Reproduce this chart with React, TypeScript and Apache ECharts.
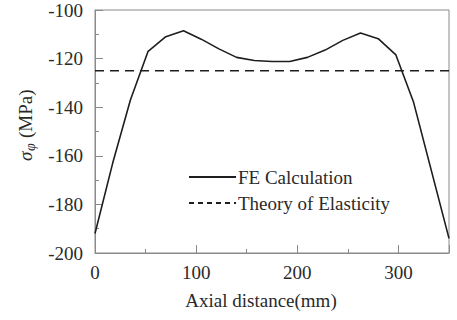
import React, { useEffect, useRef } from "react";
import * as echarts from "echarts";

const xPositions = [0, 17.5, 35, 52.5, 70, 87.5, 105, 122.5, 140, 157.5, 175, 192.5, 210, 227.5, 245, 262.5, 280, 297.5, 315, 332.5, 350];
const feValues = [-192, -163, -137, -117, -111, -108.5, -112, -116, -119.5, -120.8, -121.2, -121.2, -119.5, -116.5, -112.5, -109.5, -111.8, -118.5, -138, -166, -194];
const theoryX = [0, 350];
const theoryValue = -125;
const seriesNames = ["FE Calculation", "Theory of Elasticity"];
const xTicks = [0, 100, 200, 300];
const yTicks = [-200, -180, -160, -140, -120, -100];

const FONT = "Liberation Serif";
const AXIS_COLOR = "#8a8a8a";
const TEXT_COLOR = "#2a2a2a";

export default function App() {
  const ref = useRef<HTMLDivElement>(null);
  useEffect(() => {
    if (!ref.current) return;
    const chart = echarts.init(ref.current, null, { renderer: "svg" });
    const feData = xPositions.map((x, i) => [x, feValues[i]]);
    const thData = theoryX.map((x) => [x, theoryValue]);
    chart.setOption({
      animation: false,
      backgroundColor: "#fff",
      textStyle: { fontFamily: FONT },
      grid: {
        left: 95,
        right: 8,
        top: 10,
        bottom: 67,
        show: true,
        borderColor: AXIS_COLOR,
        borderWidth: 1,
        backgroundColor: "transparent",
      },
      legend: {
        orient: "vertical",
        left: 188,
        top: 167,
        padding: 0,
        itemWidth: 47,
        itemHeight: 14,
        itemGap: 6,
        textStyle: { fontFamily: FONT, fontSize: 19, color: TEXT_COLOR, lineHeight: 20, padding: [0, 0, 0, -3] },
        data: [
          { name: seriesNames[0], itemStyle: { opacity: 0 } },
          { name: seriesNames[1], itemStyle: { opacity: 0 }, lineStyle: { type: [5, 4] } },
        ],
      },
      xAxis: {
        type: "value",
        min: 0,
        max: 350,
        interval: 100,
        name: "Axial distance(mm)",
        nameLocation: "middle",
        nameGap: 38,
        nameTextStyle: { fontFamily: FONT, fontSize: 19, color: TEXT_COLOR, padding: [0, 22, 0, 0] },
        axisLine: { show: true, lineStyle: { color: AXIS_COLOR, width: 1 } },
        axisTick: { show: true, inside: true, length: 8, lineStyle: { color: AXIS_COLOR } },
        minorTick: { show: true, splitNumber: 2, length: 4, lineStyle: { color: AXIS_COLOR } },
        splitLine: { show: false },
        axisLabel: {
          fontFamily: FONT,
          fontSize: 19,
          color: TEXT_COLOR,
          margin: 10,
          showMaxLabel: false,
          formatter: (v: number) => (xTicks.includes(v) ? String(v) : ""),
        },
      },
      yAxis: {
        type: "value",
        min: -200,
        max: -100,
        interval: 20,
        axisLine: { show: true, lineStyle: { color: AXIS_COLOR, width: 1 } },
        axisTick: { show: true, inside: true, length: 8, lineStyle: { color: AXIS_COLOR } },
        minorTick: { show: true, splitNumber: 2, length: 4, lineStyle: { color: AXIS_COLOR } },
        splitLine: { show: false },
        axisLabel: {
          fontFamily: FONT,
          fontSize: 19,
          color: TEXT_COLOR,
          margin: 12,
          formatter: (v: number) => (yTicks.includes(v) ? String(v) : ""),
        },
      },
      graphic: [
        {
          type: "group",
          x: 25,
          y: 161,
          rotation: Math.PI / 2,
          children: [
            {
              type: "text",
              x: 0,
              y: 0,
              style: { text: "σ", fontFamily: FONT, fontSize: 19, fontStyle: "italic", fill: TEXT_COLOR, textAlign: "left", textVerticalAlign: "middle" },
            },
            {
              type: "text",
              x: 10,
              y: 5,
              style: { text: "φ", fontFamily: FONT, fontSize: 14, fontStyle: "italic", fill: TEXT_COLOR, textAlign: "left", textVerticalAlign: "middle" },
            },
            {
              type: "text",
              x: 23,
              y: 0,
              style: { text: "(MPa)", fontFamily: FONT, fontSize: 19, fill: TEXT_COLOR, textAlign: "left", textVerticalAlign: "middle" },
            },
          ],
        },
      ],
      series: [
        {
          name: seriesNames[0],
          type: "line",
          data: feData,
          symbol: "none",
          lineStyle: { color: "#1e1e1e", width: 1.6 },
          itemStyle: { color: "#1e1e1e" },
        },
        {
          name: seriesNames[1],
          type: "line",
          data: thData,
          symbol: "none",
          lineStyle: { color: "#1e1e1e", width: 1.6, type: [9, 6] },
          itemStyle: { color: "#1e1e1e" },
        },
      ],
    });
    return () => chart.dispose();
  }, []);
  return <div ref={ref} style={{ width: 457, height: 320, position: "absolute", left: 0, top: 0 }} />;
}
